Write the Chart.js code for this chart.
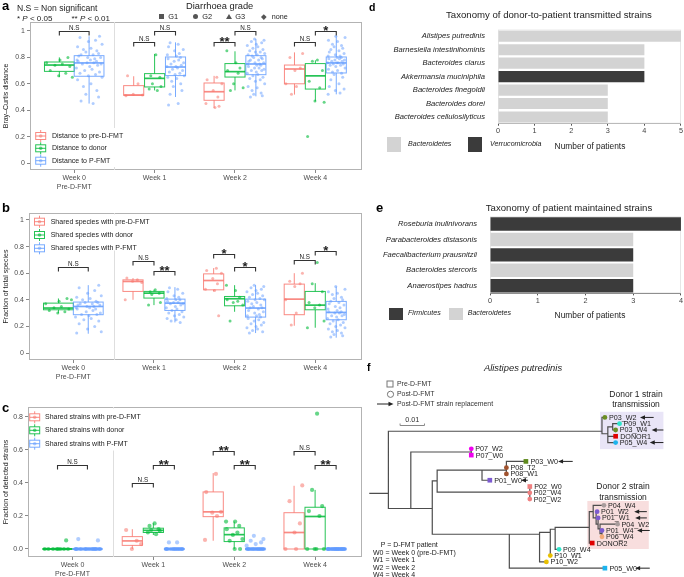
<!DOCTYPE html>
<html>
<head>
<meta charset="utf-8">
<script src="https://cdn.jsdelivr.net/npm/chart.js@4.4.1/dist/chart.umd.min.js"></script>
<style>
  body { margin: 0; background: #fff; font-family: 'Liberation Sans', Arial, sans-serif; }
  #page { position: relative; width: 684px; height: 577px; overflow: hidden; background: #fff; }
  canvas { position: absolute; }
  .t { position: absolute; white-space: nowrap; line-height: 1; color: #222; }
  .c { transform: translate(-50%, -50%); text-align: center; }
  .l { transform: translateY(-50%); }
  .tag { font-weight: bold; color: #000; }
  .sq { position: absolute; }
</style>
</head>
<body>
<div id="page">
  <canvas id="chartA" width="366" height="190" style="left:0;top:0"></canvas>
  <canvas id="chartB" width="366" height="180" style="left:0;top:200px"></canvas>
  <canvas id="chartC" width="366" height="182" style="left:0;top:395px"></canvas>
  <canvas id="chartD" width="324" height="140" style="left:360px;top:20px"></canvas>
  <canvas id="chartE" width="324" height="125" style="left:360px;top:200px"></canvas>
  <canvas id="chartF" width="324" height="202" style="left:360px;top:375px"></canvas>

  <!-- panel letters -->
  <div class="t tag" style="left:2px;top:-1.5px;font-size:13px">a</div>
  <div class="t tag" style="left:2px;top:200.7px;font-size:13px">b</div>
  <div class="t tag" style="left:2px;top:400.7px;font-size:13px">c</div>
  <div class="t tag" style="left:369px;top:1.5px;font-size:10.5px">d</div>
  <div class="t tag" style="left:376px;top:201px;font-size:13px">e</div>
  <div class="t tag" style="left:367px;top:361.5px;font-size:10.5px">f</div>

  <!-- panel a header -->
  <div class="t l" style="left:17px;top:8.3px;font-size:8.6px">N.S = Non significant</div>
  <div class="t l" style="left:17px;top:19px;font-size:8px">* <i>P</i> &lt; 0.05</div>
  <div class="t l" style="left:71.5px;top:19px;font-size:8px">** <i>P</i> &lt; 0.01</div>
  <div class="t c" style="left:219.7px;top:7px;font-size:9.3px">Diarrhoea grade</div>
  <div class="sq" style="left:159.3px;top:14.4px;width:4.7px;height:4.7px;background:#555"></div>
  <div class="t l" style="left:168.3px;top:16.8px;font-size:7.4px">G1</div>
  <div class="sq" style="left:192.7px;top:14.3px;width:5px;height:5px;border-radius:50%;background:#555"></div>
  <div class="t l" style="left:202.3px;top:16.8px;font-size:7.4px">G2</div>
  <div class="sq" style="left:226px;top:14px;width:0;height:0;border-left:3.2px solid transparent;border-right:3.2px solid transparent;border-bottom:5.4px solid #555"></div>
  <div class="t l" style="left:235.3px;top:16.8px;font-size:7.4px">G3</div>
  <div class="sq" style="left:262px;top:15px;width:3.6px;height:3.6px;background:#555;transform:rotate(45deg)"></div>
  <div class="t l" style="left:271.7px;top:16.8px;font-size:7.2px">none</div>

  <!-- panel d -->
  <div class="t c" style="left:549px;top:15px;font-size:9.6px">Taxonomy of donor-to-patient transmitted strains</div>
  <div class="t c" style="left:590px;top:146px;font-size:8.4px">Number of patients</div>
  <div class="sq" style="left:387.3px;top:137.3px;width:13.4px;height:14.4px;background:#d3d3d3"></div>
  <div class="t l" style="left:408px;top:145px;font-size:7.1px;font-style:italic">Bacteroidetes</div>
  <div class="sq" style="left:468.3px;top:137.3px;width:14px;height:14.4px;background:#3b3b3b"></div>
  <div class="t l" style="left:490px;top:145px;font-size:7.1px;font-style:italic">Verrucomicrobia</div>

  <!-- panel e -->
  <div class="t c" style="left:569px;top:208px;font-size:9.6px">Taxonomy of patient maintained strains</div>
  <div class="t c" style="left:590px;top:315px;font-size:8.4px">Number of patients</div>
  <div class="sq" style="left:389.3px;top:307.7px;width:14px;height:12.3px;background:#3b3b3b"></div>
  <div class="t l" style="left:408px;top:313.5px;font-size:7.1px;font-style:italic">Firmicutes</div>
  <div class="sq" style="left:449.3px;top:307.7px;width:14px;height:12.3px;background:#d3d3d3"></div>
  <div class="t l" style="left:467.7px;top:313.5px;font-size:7.1px;font-style:italic">Bacteroidetes</div>

  <!-- panel f -->
  <div class="t c" style="left:523px;top:368px;font-size:9.4px;font-style:italic">Alistipes putredinis</div>
  <div class="t c" style="left:636px;top:394px;font-size:8.5px">Donor 1 strain</div>
  <div class="t c" style="left:636px;top:404px;font-size:8.5px">transmission</div>
  <div class="t c" style="left:623px;top:486px;font-size:8.5px">Donor 2 strain</div>
  <div class="t c" style="left:623px;top:496.5px;font-size:8.5px">transmission</div>
  <div class="t l" style="left:380.7px;top:544px;font-size:7px">P = D-FMT patient</div>
  <div class="t l" style="left:373px;top:551.5px;font-size:7px">W0 = Week 0 (pre-D-FMT)</div>
  <div class="t l" style="left:373px;top:559px;font-size:7px">W1 = Week 1</div>
  <div class="t l" style="left:373px;top:566.5px;font-size:7px">W2 = Week 2</div>
  <div class="t l" style="left:373px;top:574px;font-size:7px">W4 = Week 4</div>
</div>

<script>
Chart.defaults.font.family = "'Liberation Sans', Arial, sans-serif";

// ---- shared axis data for panels a-c ----
const weeks = ['Week 0', 'Week 1', 'Week 2', 'Week 4'];
const week0Sub = 'Pre-D-FMT';
const weekTicks = [0, 1, 2, 3];
const abTicks = [0, 0.2, 0.4, 0.6, 0.8, 1];
const abTickLabels = ['0', '0.2', '0.4', '0.6', '0.8', '1'];
const cTicks = [0, 0.2, 0.4, 0.6, 0.8];
const cTickLabels = ['0.0', '0.2', '0.4', '0.6', '0.8'];

// box stats per week: [lower whisker, q1, median, q3, upper whisker]
// ---- panel a: Bray-Curtis distance ----
const aLabels = ['Distance to pre-D-FMT', 'Distance to donor', 'Distance to P-FMT'];
const aPreBox = [null, [0.51, 0.513, 0.515, 0.586, 0.657], [0.417, 0.475, 0.54, 0.606, 0.66], [0.518, 0.6, 0.712, 0.742, 0.838]];
const aDonorBox = [[0.65, 0.694, 0.742, 0.765, 0.8], [0.55, 0.576, 0.641, 0.677, 0.826], [0.55, 0.651, 0.692, 0.753, 0.846], [0.467, 0.56, 0.66, 0.753, 0.778]];
const aPfmtBox = [[0.45, 0.657, 0.758, 0.813, 0.96], [0.5, 0.662, 0.727, 0.803, 0.914], [0.505, 0.669, 0.75, 0.813, 0.94], [0.52, 0.682, 0.758, 0.803, 0.96]];
const aPrePts = [[], [0.66, 0.6, 0.52, 0.515, 0.51], [0.65, 0.63, 0.6, 0.55, 0.5, 0.45, 0.42, 0.43], [0.83, 0.8, 0.72, 0.7, 0.6, 0.58, 0.52]];
const aDonorPts = [[0.8, 0.78, 0.76, 0.75, 0.74, 0.73, 0.7, 0.68, 0.66, 0.65], [0.82, 0.66, 0.65, 0.6, 0.58, 0.56, 0.55], [0.85, 0.76, 0.72, 0.7, 0.68, 0.6, 0.57, 0.55], [0.78, 0.77, 0.7, 0.62, 0.57, 0.47, 0.46, 0.2]];
const aPfmtPts = [
  [0.96, 0.95, 0.93, 0.92, 0.9, 0.88, 0.87, 0.86, 0.85, 0.84, 0.83, 0.82, 0.82, 0.81, 0.8, 0.8, 0.79, 0.78, 0.78, 0.77, 0.77, 0.76, 0.76, 0.75, 0.75, 0.74, 0.73, 0.72, 0.71, 0.7, 0.69, 0.68, 0.67, 0.66, 0.65, 0.63, 0.6, 0.58, 0.55, 0.52, 0.5, 0.47, 0.45],
  [0.91, 0.9, 0.88, 0.86, 0.85, 0.83, 0.82, 0.81, 0.8, 0.79, 0.78, 0.77, 0.76, 0.75, 0.74, 0.73, 0.73, 0.72, 0.71, 0.7, 0.69, 0.68, 0.67, 0.66, 0.65, 0.64, 0.62, 0.6, 0.58, 0.55, 0.52, 0.45, 0.44],
  [0.94, 0.93, 0.92, 0.91, 0.9, 0.89, 0.88, 0.87, 0.86, 0.85, 0.84, 0.84, 0.83, 0.82, 0.82, 0.81, 0.8, 0.8, 0.79, 0.78, 0.78, 0.77, 0.76, 0.76, 0.75, 0.75, 0.74, 0.74, 0.73, 0.72, 0.72, 0.71, 0.7, 0.7, 0.69, 0.68, 0.67, 0.66, 0.65, 0.64, 0.63, 0.62, 0.6, 0.58, 0.57, 0.55, 0.53, 0.52, 0.51, 0.5],
  [0.96, 0.95, 0.93, 0.92, 0.9, 0.89, 0.88, 0.87, 0.86, 0.85, 0.84, 0.83, 0.82, 0.81, 0.81, 0.8, 0.8, 0.79, 0.79, 0.78, 0.78, 0.77, 0.77, 0.76, 0.76, 0.76, 0.75, 0.75, 0.74, 0.74, 0.73, 0.72, 0.71, 0.7, 0.69, 0.68, 0.67, 0.65, 0.63, 0.6, 0.58, 0.56, 0.55, 0.53, 0.52]
];
// [week, from series, to series, y, label]
const aBrackets = [[0, 1, 2, 1.0, 'N.S'], [1, 0, 1, 0.915, 'N.S'], [1, 1, 2, 1.0, 'N.S'], [2, 0, 1, 0.915, '**'], [2, 1, 2, 1.0, 'N.S'], [3, 0, 1, 0.915, 'N.S'], [3, 1, 2, 1.0, '*']];

// ---- panel b: fraction of total species ----
const bLabels = ['Shared species with pre-D-FMT', 'Shared species with donor', 'Shared species with P-FMT'];
const bPreBox = [null, [0.4, 0.463, 0.538, 0.55, 0.563], [0.463, 0.475, 0.545, 0.595, 0.638], [0.205, 0.288, 0.405, 0.518, 0.6]];
const bDonorBox = [[0.3, 0.325, 0.338, 0.375, 0.41], [0.36, 0.413, 0.45, 0.463, 0.475], [0.31, 0.355, 0.408, 0.425, 0.51], [0.19, 0.325, 0.36, 0.463, 0.525]];
const bPfmtBox = [[0.145, 0.288, 0.35, 0.383, 0.51], [0.23, 0.32, 0.375, 0.405, 0.495], [0.15, 0.27, 0.338, 0.405, 0.51], [0.115, 0.25, 0.305, 0.388, 0.5]];
const bPrePts = [[], [0.563, 0.55, 0.54, 0.53, 0.4], [0.638, 0.62, 0.6, 0.56, 0.52, 0.48, 0.47, 0.28], [0.6, 0.54, 0.52, 0.5, 0.4, 0.3, 0.21]];
const bDonorPts = [[0.41, 0.39, 0.37, 0.35, 0.34, 0.33, 0.32, 0.31, 0.3, 0.4], [0.475, 0.46, 0.45, 0.44, 0.38, 0.36], [0.51, 0.47, 0.42, 0.4, 0.39, 0.38, 0.36, 0.24], [0.68, 0.52, 0.46, 0.38, 0.36, 0.34, 0.24, 0.19]];
const bPfmtPts = [
  [0.51, 0.49, 0.47, 0.45, 0.43, 0.42, 0.41, 0.4, 0.39, 0.38, 0.38, 0.37, 0.37, 0.36, 0.36, 0.35, 0.35, 0.34, 0.34, 0.33, 0.33, 0.32, 0.31, 0.3, 0.29, 0.29, 0.28, 0.27, 0.26, 0.25, 0.24, 0.22, 0.2, 0.18, 0.16, 0.15],
  [0.49, 0.48, 0.46, 0.45, 0.43, 0.42, 0.41, 0.4, 0.4, 0.39, 0.38, 0.38, 0.37, 0.37, 0.36, 0.35, 0.34, 0.33, 0.32, 0.31, 0.3, 0.29, 0.28, 0.27, 0.26, 0.25, 0.24, 0.23],
  [0.51, 0.5, 0.49, 0.48, 0.47, 0.46, 0.45, 0.44, 0.43, 0.42, 0.41, 0.4, 0.4, 0.39, 0.38, 0.37, 0.36, 0.35, 0.34, 0.34, 0.33, 0.32, 0.31, 0.3, 0.29, 0.28, 0.28, 0.27, 0.26, 0.25, 0.24, 0.23, 0.22, 0.21, 0.2, 0.19, 0.18, 0.17, 0.16, 0.15],
  [0.5, 0.48, 0.46, 0.45, 0.44, 0.42, 0.41, 0.4, 0.39, 0.38, 0.37, 0.36, 0.35, 0.34, 0.33, 0.32, 0.31, 0.31, 0.3, 0.3, 0.29, 0.28, 0.28, 0.27, 0.26, 0.25, 0.24, 0.23, 0.22, 0.21, 0.2, 0.19, 0.18, 0.17, 0.16, 0.15, 0.14, 0.13, 0.12]
];
const bBrackets = [[0, 1, 2, 0.645, 'N.S'], [1, 0, 1, 0.688, 'N.S'], [1, 1, 2, 0.613, '**'], [2, 0, 1, 0.745, '*'], [2, 1, 2, 0.645, '*'], [3, 0, 1, 0.7, 'N.S'], [3, 1, 2, 0.77, '*']];

// ---- panel c: fraction of detected strains ----
const cLabels = ['Shared strains with pre-D-FMT', 'Shared strains with donor', 'Shared strains with P-FMT'];
const cPreBox = [null, [0, 0.022, 0.049, 0.075, 0.12], [0.05, 0.196, 0.225, 0.346, 0.46], [0, 0, 0.1, 0.22, 0.383]];
const cDonorBox = [[0, 0, 0, 0, 0], [0.085, 0.1, 0.113, 0.126, 0.156], [0, 0.045, 0.087, 0.128, 0.166], [0, 0, 0.197, 0.253, 0.358]];
const cPfmtBox = [[0, 0, 0, 0, 0], [0, 0, 0, 0, 0], [0, 0, 0, 0, 0], [0, 0, 0, 0, 0]];
const cPrePts = [[], [0.115, 0.05, 0, 0.03], [0.455, 0.345, 0.225, 0.22, 0.2, 0.055], [0.385, 0.29, 0.155, 0.1, 0, 0]];
const cDonorPts = [[0.052, 0, 0, 0, 0, 0, 0, 0, 0], [0.155, 0.14, 0.12, 0.115, 0.11, 0.1, 0.09], [0.166, 0.166, 0.14, 0.12, 0.1, 0.085, 0.06, 0.05, 0, 0], [0.82, 0.358, 0.26, 0.23, 0.2, 0, 0, 0, 0]];
const cPfmtPts = [
  [0.052, 0.06, 0, 0, 0, 0, 0, 0, 0, 0, 0, 0, 0, 0, 0, 0, 0, 0, 0, 0, 0, 0, 0, 0, 0, 0],
  [0.04, 0.04, 0, 0, 0, 0, 0, 0, 0, 0, 0, 0, 0, 0, 0, 0, 0, 0, 0, 0],
  [0.08, 0.06, 0.05, 0.04, 0.03, 0.02, 0, 0, 0, 0, 0, 0, 0, 0, 0, 0, 0, 0, 0, 0, 0, 0, 0, 0, 0, 0],
  [0, 0, 0, 0, 0, 0, 0, 0, 0, 0, 0, 0, 0, 0, 0, 0, 0, 0, 0, 0, 0, 0, 0, 0, 0, 0, 0, 0]
];
const cBrackets = [[0, 1, 2, 0.51, 'N.S'], [1, 0, 1, 0.4, 'N.S'], [1, 1, 2, 0.51, '**'], [2, 0, 1, 0.595, '**'], [2, 1, 2, 0.51, '**'], [3, 0, 1, 0.595, 'N.S'], [3, 1, 2, 0.51, '**']];

// ---- panels d, e ----
const dSpecies = ['Alistipes putredinis', 'Barnesiella intestinihominis', 'Bacteroides clarus', 'Akkermansia muciniphila', 'Bacteroides finegoldii', 'Bacteroides dorei', 'Bacteroides cellulosilyticus'];
const dPatients = [5, 4, 4, 4, 3, 3, 3];
const dPhylum = ['Bacteroidetes', 'Bacteroidetes', 'Bacteroidetes', 'Verrucomicrobia', 'Bacteroidetes', 'Bacteroidetes', 'Bacteroidetes'];
const eSpecies = ['Roseburia inulinivorans', 'Parabacteroides distasonis', 'Faecalibacterium prausnitzii', 'Bacteroides stercoris', 'Anaerostipes hadrus'];
const ePatients = [4, 3, 3, 3, 3];
const ePhylum = ['Firmicutes', 'Bacteroidetes', 'Firmicutes', 'Bacteroidetes', 'Firmicutes'];
const phylumColors = { Bacteroidetes: '#d3d3d3', Verrucomicrobia: '#3b3b3b', Firmicutes: '#3b3b3b' };

// ---- panel f: tree [node, parent, depth (subst./site), row] ----
const treeNodes = [
  ['A', null, 0.0076, 12.1],
  ['D1', 'A', 0.0952, 2.2],
  ['P03_W2', 'D1', 0.0964, 0],
  ['N1', 'D1', 0.0976, 2.6],
  ['N2', 'N1', 0.0996, 1.5],
  ['P09_W1', 'N2', 0.1024, 1],
  ['P03_W4', 'N2', 0.1008, 2],
  ['DONOR1', 'N1', 0.1008, 3],
  ['P05_W4', 'N1', 0.1008, 4],
  ['B', 'A', 0.0168, 14.5],
  ['P07', 'B', 0.0416, 5.5],
  ['P07_W2', 'P07', 0.0416, 5],
  ['P07_W0', 'P07', 0.0416, 6],
  ['C', 'B', 0.0256, 14.5],
  ['D', 'C', 0.0276, 10.1],
  ['E', 'D', 0.046, 8.4],
  ['F', 'E', 0.056, 8.4],
  ['P03_W0', 'F', 0.064, 7],
  ['P08_T2', 'F', 0.056, 8],
  ['P08_W1', 'F', 0.056, 9],
  ['P01_W0', 'E', 0.0492, 10],
  ['P02', 'D', 0.0656, 11.9],
  ['P02_W0', 'P02', 0.0656, 11],
  ['P02_W4', 'P02', 0.0656, 12],
  ['P02_W2', 'P02', 0.0656, 13],
  ['H', 'C', 0.0572, 18.6],
  ['I', 'H', 0.0696, 18.6],
  ['J', 'I', 0.074, 18.3],
  ['K', 'J', 0.076, 17.8],
  ['D2', 'K', 0.09, 17.5],
  ['M', 'D2', 0.0916, 15],
  ['P04_W4', 'M', 0.096, 14],
  ['N', 'M', 0.0928, 16],
  ['P01_W2', 'N', 0.0932, 15],
  ['O', 'N', 0.0936, 17],
  ['P01_W1', 'O', 0.0936, 16],
  ['Pn', 'O', 0.0944, 17.75],
  ['P04_W2', 'Pn', 0.1016, 17],
  ['Q', 'Pn', 0.0952, 18.5],
  ['P01_W4', 'Q', 0.0952, 18],
  ['P06_W4', 'Q', 0.0952, 19],
  ['DONOR2', 'D2', 0.0912, 20],
  ['P09_W4', 'K', 0.0776, 21],
  ['P10_W1', 'J', 0.074, 22],
  ['P10_W2', 'I', 0.0724, 23],
  ['P05_W0', 'H', 0.0964, 24]
];
const tipNames = ['P03_W2', 'P09_W1', 'P03_W4', 'DONOR1', 'P05_W4', 'P07_W2', 'P07_W0', 'P03_W0', 'P08_T2', 'P08_W1', 'P01_W0', 'P02_W0', 'P02_W4', 'P02_W2', 'P04_W4', 'P01_W2', 'P01_W1', 'P04_W2', 'P01_W4', 'P06_W4', 'DONOR2', 'P09_W4', 'P10_W1', 'P10_W2', 'P05_W0'];
const tipColors = ['#6b8e23', '#2ee6cc', '#6b8e23', '#e00000', '#1cb4ee', '#f000f0', '#f000f0', '#5f8a1c', '#a0522d', '#a0522d', '#7d5bd0', '#f08080', '#f08080', '#f08080', '#a89c9c', '#7d5bd0', '#7d5bd0', '#a89c9c', '#7d5bd0', '#f4a878', '#e00000', '#2ee6cc', '#e8c000', '#e8c000', '#1cb4ee'];
const tipShapes = ['circle', 'circle', 'circle', 'rect', 'circle', 'circle', 'rect', 'rect', 'circle', 'circle', 'rect', 'rect', 'circle', 'circle', 'circle', 'circle', 'circle', 'circle', 'circle', 'circle', 'rect', 'circle', 'circle', 'circle', 'rect'];
// strain replacement arrows: [tip, head depth, tail depth]
const replacementArrows = [['P03_W2', 0.1108, 0.1164], ['P03_W4', 0.1156, 0.1204], ['P05_W4', 0.1148, 0.1204], ['P03_W0', 0.0772, 0.0832], ['P01_W0', 0.062, 0.0648], ['P01_W2', 0.1084, 0.1136], ['P01_W1', 0.1088, 0.1136], ['P01_W4', 0.1096, 0.1148], ['P05_W0', 0.1088, 0.1148]];
// highlighted clades: [depth from, depth to, row from, row to, colour]
const cladeBoxes = [[0.0944, 0.1204, -0.9, 5.05, '#e9e5f7'], [0.0892, 0.1144, 13.3, 20.95, '#f8dede']];

// ---- colours ----
const seriesLine = ['rgba(248,118,109,0.85)', 'rgba(0,186,56,0.85)', 'rgba(97,156,255,0.85)'];
const seriesPoint = ['rgba(248,118,109,0.55)', 'rgba(0,186,56,0.6)', 'rgba(97,156,255,0.5)'];
const jitter = [-0.82, 0.35, -0.15, 0.9, -0.5, 0.64, 0.05, -0.95, 0.22, -0.33, 0.78, -0.68, 0.48, -0.05, 0.97, -0.86, 0.14, -0.42, 0.58, -0.24, 0.71, -0.6, 0.3, -0.77, 0.86, -0.1, 0.42, -0.9, 0.1, 0.55];

function groupX(w, s) {
  if (w === 0) return s === 1 ? -0.185 : 0.185;
  return w + (s - 1) * 0.26;
}
function groupW(w) { return w === 0 ? 0.37 : 0.25; }

const boxPlugin = {
  id: 'boxes',
  beforeDatasetsDraw(chart, args, o) {
    const { ctx, chartArea: a, scales: { x, y } } = chart;
    ctx.save();
    ctx.strokeStyle = '#b3b3b3';
    ctx.lineWidth = 1;
    ctx.strokeRect(a.left + 0.5, a.top + 0.5, a.right - a.left - 1, a.bottom - a.top - 1);
    const sx = Math.round(x.getPixelForValue(0.5)) + 0.5;
    ctx.strokeStyle = '#dedede';
    ctx.beginPath(); ctx.moveTo(sx, a.top); ctx.lineTo(sx, a.bottom); ctx.stroke();
    o.stats.forEach((series, s) => series.forEach((st, w) => {
      if (!st) return;
      const cx = x.getPixelForValue(groupX(w, s));
      const hw = (x.getPixelForValue(groupW(w)) - x.getPixelForValue(0)) / 2;
      const [lo, q1, med, q3, hi] = st.map(v => y.getPixelForValue(v));
      ctx.strokeStyle = seriesLine[s];
      ctx.lineWidth = 1;
      ctx.beginPath();
      ctx.moveTo(cx, hi); ctx.lineTo(cx, q3);
      ctx.moveTo(cx, q1); ctx.lineTo(cx, lo);
      ctx.stroke();
      ctx.strokeRect(cx - hw, q3, 2 * hw, q1 - q3);
      ctx.lineWidth = 1.7;
      ctx.beginPath(); ctx.moveTo(cx - hw, med); ctx.lineTo(cx + hw, med); ctx.stroke();
    }));
    ctx.restore();
  },
  afterDatasetsDraw(chart, args, o) {
    const { ctx, scales: { x, y } } = chart;
    ctx.save();
    o.brackets.forEach(([w, s1, s2, v, lab]) => {
      const x1 = x.getPixelForValue(groupX(w, s1));
      const x2 = x.getPixelForValue(groupX(w, s2));
      const py = Math.round(y.getPixelForValue(v)) + 0.5;
      ctx.strokeStyle = '#333';
      ctx.lineWidth = 1.1;
      ctx.beginPath();
      ctx.moveTo(x1, py + 4); ctx.lineTo(x1, py); ctx.lineTo(x2, py); ctx.lineTo(x2, py + 4);
      ctx.stroke();
      ctx.fillStyle = '#222';
      ctx.textAlign = 'center';
      ctx.textBaseline = 'alphabetic';
      if (lab === 'N.S') {
        ctx.font = "6.3px 'Liberation Sans', Arial";
        ctx.fillText(lab, (x1 + x2) / 2, py - 1.5);
      } else {
        ctx.font = "bold 13px 'Liberation Sans', Arial";
        ctx.fillText(lab, (x1 + x2) / 2, py + 3);
      }
    });
    const L = o.legend;
    ctx.fillStyle = '#fff';
    ctx.fillRect(L.bg[0], L.bg[1], L.bg[2], L.bg[3]);
    L.labels.forEach((lab, s) => {
      const cy = L.y[s], cx = L.x;
      ctx.strokeStyle = seriesLine[s];
      ctx.lineWidth = 1;
      ctx.beginPath(); ctx.moveTo(cx, cy - 6); ctx.lineTo(cx, cy + 6); ctx.stroke();
      ctx.fillStyle = '#fff';
      ctx.fillRect(cx - 5, cy - 3.5, 10, 7);
      ctx.strokeRect(cx - 5, cy - 3.5, 10, 7);
      ctx.beginPath(); ctx.moveTo(cx - 5, cy); ctx.lineTo(cx + 5, cy); ctx.stroke();
      ctx.fillStyle = seriesPoint[s];
      ctx.beginPath(); ctx.arc(cx, cy, 1.8, 0, Math.PI * 2); ctx.fill();
      ctx.fillStyle = '#222';
      ctx.font = "7px 'Liberation Sans', Arial";
      ctx.textAlign = 'left';
      ctx.textBaseline = 'middle';
      ctx.fillText(lab, L.textX, cy);
    });
    ctx.restore();
  }
};

function boxChart(id, cfg) {
  const datasets = [];
  cfg.points.forEach((series, s) => series.forEach((vals, w) => {
    if (!vals.length) return;
    datasets.push({
      data: vals.map((v, k) => ({ x: groupX(w, s) + jitter[(k + s * 5 + w * 11) % jitter.length] * groupW(w) * 0.45, y: v })),
      backgroundColor: seriesPoint[s],
      borderWidth: 0,
      pointRadius: cfg.radius,
      pointHoverRadius: cfg.radius
    });
  }));
  return new Chart(document.getElementById(id), {
    type: 'scatter',
    data: { datasets },
    options: {
      responsive: false,
      animation: false,
      events: [],
      layout: { padding: { top: cfg.top, right: 4, left: 0, bottom: 0 } },
      plugins: {
        legend: { display: false },
        tooltip: { enabled: false },
        boxes: { stats: cfg.stats, brackets: cfg.brackets, legend: cfg.legend }
      },
      scales: {
        x: {
          type: 'linear', min: -0.55, max: 3.58,
          afterBuildTicks: s => { s.ticks = weekTicks.map(v => ({ value: v })); },
          afterFit: s => { s.height = 20; },
          grid: { drawOnChartArea: false, tickLength: 3, color: '#888' },
          border: { display: false },
          ticks: {
            callback: v => (v === 0 ? [weeks[0], week0Sub] : weeks[v]),
            font: { size: 7 }, color: '#4d4d4d', padding: 1, maxRotation: 0, autoSkip: false
          }
        },
        y: {
          min: cfg.yMin, max: cfg.yMax,
          afterBuildTicks: s => { s.ticks = cfg.yTicks.map(v => ({ value: v })); },
          afterFit: s => { s.width = cfg.left; },
          title: { display: true, text: cfg.yTitle, font: { size: 7 }, color: '#222', padding: { top: 2, bottom: 0 } },
          grid: { drawOnChartArea: false, tickLength: 3, color: '#888' },
          border: { display: false },
          ticks: {
            callback: v => cfg.yTickLabels[cfg.yTicks.indexOf(v)],
            font: { size: 7 }, color: '#4d4d4d', padding: 2
          }
        }
      }
    },
    plugins: [boxPlugin]
  });
}

boxChart('chartA', {
  top: 22, left: 30, radius: 1.5, yMin: -0.053, yMax: 1.068, yTicks: abTicks, yTickLabels: abTickLabels,
  yTitle: 'Bray–Curtis distance',
  stats: [aPreBox, aDonorBox, aPfmtBox], points: [aPrePts, aDonorPts, aPfmtPts], brackets: aBrackets,
  legend: { labels: aLabels, x: 40.7, textX: 52, y: [136, 148.3, 160.7], bg: [33, 128, 92, 39] }
});
boxChart('chartB', {
  top: 13, left: 29, radius: 1.5, yMin: -0.0526, yMax: 1.0526, yTicks: abTicks, yTickLabels: abTickLabels,
  yTitle: 'Fraction of total species',
  stats: [bPreBox, bDonorBox, bPfmtBox], points: [bPrePts, bDonorPts, bPfmtPts], brackets: bBrackets,
  legend: { labels: bLabels, x: 39.5, textX: 50.7, y: [21.7, 35, 48.3], bg: [31, 14.5, 92, 36] }
});
boxChart('chartC', {
  top: 12, left: 28, radius: 2.1, yMin: -0.0485, yMax: 0.8606, yTicks: cTicks, yTickLabels: cTickLabels,
  yTitle: 'Fraction of detected strains',
  stats: [cPreBox, cDonorBox, cPfmtBox], points: [cPrePts, cDonorPts, cPfmtPts], brackets: cBrackets,
  legend: { labels: cLabels, x: 34.7, textX: 45, y: [22.3, 35.3, 48.7], bg: [29.5, 13.5, 92, 42] }
});

// ---- bar charts d, e ----
const framePlugin = {
  id: 'frame',
  beforeDatasetsDraw(chart) {
    const { ctx, chartArea: a } = chart;
    ctx.save();
    ctx.strokeStyle = '#e6e6e6';
    ctx.lineWidth = 1;
    ctx.strokeRect(a.left + 0.5, a.top + 0.5, a.right - a.left - 1, a.bottom - a.top - 1);
    ctx.restore();
  }
};

function barChart(id, labels, values, phyla, cfg) {
  return new Chart(document.getElementById(id), {
    type: 'bar',
    data: {
      labels,
      datasets: [{ data: values, backgroundColor: phyla.map(p => phylumColors[p]), barPercentage: cfg.bar, categoryPercentage: 1 }]
    },
    options: {
      indexAxis: 'y',
      responsive: false,
      animation: false,
      events: [],
      layout: { padding: { top: cfg.top, right: 2, left: 0, bottom: 0 } },
      plugins: { legend: { display: false }, tooltip: { enabled: false } },
      scales: {
        x: {
          min: 0, max: cfg.max,
          afterFit: s => { s.height = cfg.xh; },
          ticks: { stepSize: 1, font: { size: 7.3 }, color: '#444', padding: 1 },
          grid: { drawOnChartArea: false, tickLength: 2, color: '#555' },
          border: { color: '#555' }
        },
        y: {
          afterFit: s => { s.width = cfg.yw; },
          ticks: { font: { size: 7.6, style: 'italic' }, color: '#222', padding: 5 },
          grid: { display: false },
          border: { display: false }
        }
      }
    },
    plugins: [framePlugin]
  });
}

barChart('chartD', dSpecies, dPatients, dPhylum, { top: 5.3, xh: 36.3, yw: 138, max: 5, bar: 0.83 });
barChart('chartE', eSpecies, ePatients, ePhylum, { top: 16.3, xh: 31.6, yw: 130, max: 4, bar: 0.87 });

// ---- tree f ----
const nodeById = {};
treeNodes.forEach(n => { nodeById[n[0]] = n; });

function drawArrow(ctx, xTail, xHead, yy) {
  const dir = xHead < xTail ? 1 : -1;
  ctx.beginPath(); ctx.moveTo(xTail, yy); ctx.lineTo(xHead + dir * 4, yy); ctx.stroke();
  ctx.beginPath();
  ctx.moveTo(xHead, yy);
  ctx.lineTo(xHead + dir * 5, yy - 2.2);
  ctx.lineTo(xHead + dir * 5, yy + 2.2);
  ctx.closePath();
  ctx.fill();
}

const treePlugin = {
  id: 'tree',
  beforeDatasetsDraw(chart) {
    const { ctx, scales: { x, y } } = chart;
    ctx.save();
    cladeBoxes.forEach(([d0, d1, r0, r1, col]) => {
      const x0 = x.getPixelForValue(d0), y0 = y.getPixelForValue(r0);
      ctx.fillStyle = col;
      ctx.fillRect(x0, y0, x.getPixelForValue(d1) - x0, y.getPixelForValue(r1) - y0);
    });
    ctx.strokeStyle = '#4d4d4d';
    ctx.lineWidth = 1.2;
    ctx.lineCap = 'square';
    ctx.beginPath();
    const root = treeNodes[0];
    ctx.moveTo(x.getPixelForValue(0), y.getPixelForValue(root[3]));
    ctx.lineTo(x.getPixelForValue(root[2]), y.getPixelForValue(root[3]));
    treeNodes.forEach(([id, parent, d, r]) => {
      if (parent) {
        const p = nodeById[parent];
        ctx.moveTo(x.getPixelForValue(p[2]), y.getPixelForValue(r));
        ctx.lineTo(x.getPixelForValue(d), y.getPixelForValue(r));
      }
      const kids = treeNodes.filter(n => n[1] === id);
      if (kids.length) {
        const rows = kids.map(k => k[3]).concat([r]);
        const px = x.getPixelForValue(d);
        ctx.moveTo(px, y.getPixelForValue(Math.min(...rows)));
        ctx.lineTo(px, y.getPixelForValue(Math.max(...rows)));
      }
    });
    ctx.stroke();
    // scale bar 0.01
    const sb0 = x.getPixelForValue(0.0124), sb1 = x.getPixelForValue(0.0224), sby = Math.round(y.getPixelForValue(1.15)) + 0.5;
    ctx.strokeStyle = '#888';
    ctx.lineWidth = 1;
    ctx.lineCap = 'butt';
    ctx.beginPath();
    ctx.moveTo(sb0, sby - 2); ctx.lineTo(sb0, sby); ctx.lineTo(sb1, sby); ctx.lineTo(sb1, sby - 2);
    ctx.stroke();
    ctx.fillStyle = '#333';
    ctx.font = "7.3px 'Liberation Sans', Arial";
    ctx.textAlign = 'center';
    ctx.textBaseline = 'middle';
    ctx.fillText('0.01', (sb0 + sb1) / 2, sby - 6);
    ctx.restore();
  },
  afterDatasetsDraw(chart) {
    const { ctx, scales: { x, y } } = chart;
    ctx.save();
    ctx.font = "7.2px 'Liberation Sans', Arial";
    ctx.fillStyle = '#222';
    ctx.textAlign = 'left';
    ctx.textBaseline = 'middle';
    tipNames.forEach((name, i) => {
      const n = nodeById[name];
      ctx.fillText(name, x.getPixelForValue(n[2]) + (tipShapes[i] === 'rect' ? 4.5 : 4), y.getPixelForValue(n[3]) + 0.5);
    });
    ctx.strokeStyle = '#222';
    ctx.fillStyle = '#222';
    ctx.lineWidth = 1;
    replacementArrows.forEach(([name, head, tail]) => {
      const yy = y.getPixelForValue(nodeById[name][3]);
      drawArrow(ctx, x.getPixelForValue(tail), x.getPixelForValue(head), yy);
    });
    // key
    ctx.strokeStyle = '#777';
    ctx.strokeRect(27, 6, 6, 6);
    ctx.beginPath(); ctx.arc(30.5, 19.3, 3.1, 0, Math.PI * 2); ctx.stroke();
    ctx.strokeStyle = '#222';
    drawArrow(ctx, 17, 33.5, 29);
    ctx.fillStyle = '#333';
    ctx.font = "6.9px 'Liberation Sans', Arial";
    ctx.fillText('Pre-D-FMT', 37, 9.3);
    ctx.fillText('Post-D-FMT', 37, 19.3);
    ctx.fillText('Post-D-FMT strain replacement', 37, 29.3);
    ctx.restore();
  }
};

new Chart(document.getElementById('chartF'), {
  type: 'scatter',
  data: {
    datasets: [{
      data: tipNames.map(n => ({ x: nodeById[n][2], y: nodeById[n][3] })),
      backgroundColor: tipColors,
      pointStyle: tipShapes,
      pointRadius: tipShapes.map(s => (s === 'rect' ? 3.3 : 2.4)),
      borderWidth: 0
    }]
  },
  options: {
    responsive: false,
    animation: false,
    events: [],
    layout: { padding: 0 },
    plugins: { legend: { display: false }, tooltip: { enabled: false } },
    scales: {
      x: { display: false, min: -0.0024, max: 0.1272 },
      y: { display: false, min: -6.12, max: 24.77, reverse: true }
    }
  },
  plugins: [treePlugin]
});
</script>
</body>
</html>
